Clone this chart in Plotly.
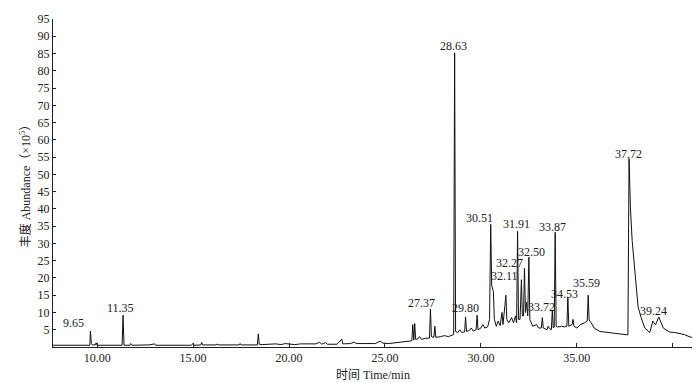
import plotly.graph_objects as go

# chromatogram trace: retention time (min) / abundance (x10^5)
rt = [7.7, 9.55, 9.62, 9.65, 9.7, 9.75, 9.9, 9.95, 10.0, 11.3, 11.35, 11.4, 11.7, 11.75, 11.8,
      12.7, 13.0, 13.05, 14.9, 15.0, 15.05, 15.4, 15.45, 15.5, 16.2, 16.25, 16.3, 17.4, 17.45, 17.5,
      18.35, 18.4, 18.45, 18.6, 19.0, 19.3, 19.6, 19.8, 20.1, 20.3, 20.6, 21.0, 21.4, 21.6, 21.7,
      21.9, 22.0, 22.5, 22.75, 22.8, 23.2, 23.4, 23.5, 24.0, 24.5, 24.75, 24.9, 25.2, 25.6, 25.9,
      26.2, 26.4, 26.45, 26.5, 26.55, 26.6, 26.7, 26.8, 26.9, 27.1, 27.32, 27.37, 27.42, 27.55,
      27.6, 27.65, 27.9, 28.1, 28.3, 28.5, 28.58, 28.63, 28.68, 28.8, 28.9, 29.0, 29.15, 29.2,
      29.25, 29.4, 29.5, 29.6, 29.75, 29.8, 29.85, 30.0, 30.1, 30.2, 30.35, 30.45, 30.51, 30.56,
      30.6, 30.65, 30.7, 30.8, 30.9, 31.0, 31.1, 31.15, 31.25, 31.3, 31.35, 31.45, 31.6, 31.7,
      31.8, 31.86, 31.91, 31.96, 32.04, 32.11, 32.16, 32.22, 32.27, 32.32, 32.38, 32.44, 32.5,
      32.55, 32.7, 32.9, 33.0, 33.15, 33.2, 33.25, 33.45, 33.5, 33.6, 33.67, 33.72, 33.77, 33.82,
      33.87, 33.92, 34.0, 34.2, 34.35, 34.48, 34.53, 34.58, 34.75, 34.8, 34.85, 35.0, 35.2, 35.4,
      35.54, 35.59, 35.64, 35.75, 35.9, 36.2, 36.6, 37.0, 37.4, 37.66, 37.72, 37.79, 37.88, 38.02,
      38.19, 38.35, 38.54, 38.8, 38.96, 39.1, 39.27, 39.5, 39.84, 40.1, 40.36, 40.6, 40.9, 41.0]
abundance = [0.5, 0.5, 0.5, 4.6, 1.0, 0.6, 0.6, 1.2, 0.5, 0.5, 9.2, 0.5, 0.5, 1.0, 0.5,
             0.6, 0.9, 0.5, 0.5, 1.0, 0.5, 0.6, 1.3, 0.6, 0.6, 0.9, 0.6, 0.6, 1.0, 0.6,
             0.6, 3.8, 0.8, 0.7, 0.8, 0.9, 0.7, 1.0, 0.8, 0.7, 0.9, 0.8, 0.9, 1.4, 0.8,
             1.3, 0.8, 0.8, 2.3, 0.9, 1.0, 1.4, 1.0, 1.0, 1.0, 1.7, 1.1, 1.0, 1.2, 1.4,
             1.5, 1.8, 6.5, 2.0, 6.8, 2.2, 2.3, 3.0, 2.2, 2.5, 2.6, 11.0, 3.0, 2.8,
             6.0, 2.8, 3.0, 3.3, 3.0, 3.5, 3.6, 85.2, 4.5, 4.2, 5.0, 4.2, 4.4, 8.7,
             4.5, 4.8, 5.5, 4.6, 5.0, 9.2, 5.0, 5.5, 6.5, 5.5, 5.8, 8.0, 35.5, 18.0,
             17.0, 16.0, 8.0, 6.0, 7.5, 6.2, 10.0, 6.5, 12.0, 15.0, 8.0, 7.0, 8.5, 7.0,
             9.0, 7.0, 33.5, 8.0, 8.0, 19.5, 9.0, 9.0, 22.8, 10.0, 13.0, 9.0, 26.0,
             8.0, 6.0, 6.5, 5.5, 5.5, 8.5, 5.5, 5.0, 6.0, 5.2, 5.0, 10.5, 5.5, 5.8,
             33.2, 6.0, 5.8, 6.0, 5.8, 6.0, 14.4, 6.0, 6.5, 8.0, 6.0, 5.5, 6.5, 7.0,
             7.5, 15.0, 7.8, 7.0, 5.5, 4.5, 4.2, 3.8, 3.5, 3.5, 54.6, 40.5, 30.9, 21.3,
             11.6, 8.5, 5.5, 4.2, 7.5, 6.4, 8.7, 5.5, 4.3, 4.2, 4.0, 3.6, 2.9, 2.8]

# peak labels and where their text sits on the chart
peak_labels = ["9.65", "11.35", "27.37", "28.63", "29.80", "30.51", "31.91", "32.11",
               "32.27", "32.50", "33.72", "33.87", "34.53", "35.59", "37.72", "39.24"]
label_x = [8.75, 11.2, 26.9, 28.55, 29.22, 29.95, 31.88, 31.25,
           31.5, 32.66, 33.18, 33.75, 34.38, 35.52, 37.7, 39.0]
label_y = [6.9, 11.3, 12.7, 87.2, 11.3, 37.5, 35.5, 20.5,
           24.3, 27.4, 11.6, 34.7, 15.3, 18.5, 56.0, 10.4]

x_ticks = [10, 15, 20, 25, 30, 35]
x_ticktext = ["10.00", "15.00", "20.00", "25.00", "30.00", "35.00"]
x_minor = [40]
y_ticks = list(range(5, 100, 5))

font_family = "Liberation Serif, Noto Sans CJK SC, serif"

fig = go.Figure()
fig.add_trace(go.Scatter(x=rt, y=abundance, mode="lines",
                         line=dict(color="#111", width=1), hoverinfo="skip"))

for txt, lx, ly in zip(peak_labels, label_x, label_y):
    fig.add_annotation(x=lx, y=ly, text=txt, showarrow=False,
                       xanchor="center", yanchor="middle",
                       font=dict(family=font_family, size=12, color="#222"))

# x-axis title drawn as a paper annotation so it sits just under the tick labels
fig.add_annotation(x=0.5, y=0, xref="paper", yref="paper", yanchor="top", yshift=-19,
                   text="时间 Time/min", showarrow=False,
                   font=dict(family=font_family, size=12, color="#222"))

fig.update_layout(
    width=700, height=383,
    margin=dict(l=53, r=8, t=19, b=36, autoexpand=False),
    plot_bgcolor="white", paper_bgcolor="white",
    showlegend=False,
    font=dict(family=font_family, size=12, color="#222"),
    xaxis=dict(range=[7.7, 41.0], tickvals=x_ticks, ticktext=x_ticktext,
               ticks="inside", ticklen=4, tickcolor="#222",
               minor=dict(tickvals=x_minor, ticks="inside", ticklen=4, tickcolor="#222"),
               showline=True, linecolor="#222", linewidth=1,
               showgrid=False, zeroline=False, automargin=False),
    yaxis=dict(range=[0, 95], tickvals=y_ticks,
               ticks="inside", ticklen=3, tickcolor="#222",
               showline=True, linecolor="#222", linewidth=1,
               showgrid=False, zeroline=False, automargin=False,
               title=dict(text="丰度 Abundance（×10<sup>5</sup>）", standoff=4,
                          font=dict(family=font_family, size=12))),
)

# the page body has a default 8px margin; remove it so the figure fills the window
fig.write_html("out.html", config={"displayModeBar": False},
               post_script="document.body.style.margin='0';")
